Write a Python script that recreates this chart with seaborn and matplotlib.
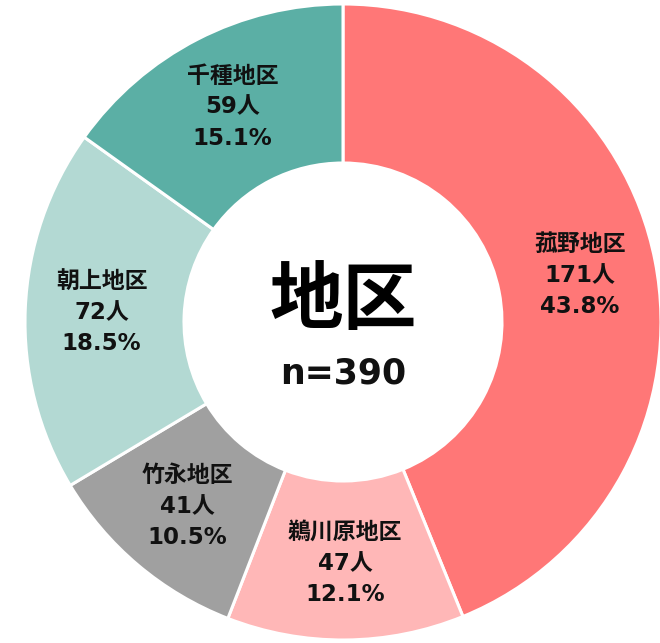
import matplotlib
matplotlib.use('Agg')
import matplotlib.pyplot as plt
import seaborn as sns

# === データ ===
areas = ['菰野地区', '鵜川原地区', '竹永地区', '朝上地区', '千種地区']
counts = [171, 47, 41, 72, 59]
percents = [43.8, 12.1, 10.5, 18.5, 15.1]
colors = ['#FF7777', '#FFB7B7', '#A0A0A0', '#B3D9D3', '#5BAFA5']
center_title = '地区'
center_n = 'n=390'

sns.set_theme(style='white')
plt.rcParams['font.family'] = ['DejaVu Sans', 'Noto Sans CJK JP']

fig = plt.figure(figsize=(6.6, 6.43), dpi=100)
ax = fig.add_axes([0, 0, 1, 1])

labels = [f'{a}\n{c}人\n{p:.1f}%' for a, c, p in zip(areas, counts, percents)]
wedges, texts = ax.pie(
    counts,
    labels=labels,
    colors=sns.color_palette(colors),
    startangle=90,
    counterclock=False,
    labeldistance=0.76,
    radius=1.0,
    wedgeprops=dict(width=0.5, edgecolor='white', linewidth=2.2),
    textprops=dict(fontsize=16.5, fontweight='bold', color='#111111',
                   ha='center', va='center', linespacing=1.45),
)
for t in texts:
    t.set_horizontalalignment('center')

ax.text(0, 0.065, center_title, ha='center', va='center',
        fontsize=53, fontweight='bold', color='black',
        family=['Noto Sans CJK JP', 'DejaVu Sans'])
ax.text(0, -0.162, center_n, ha='center', va='center',
        fontsize=25, fontweight='bold', color='#111111')

# 画像の切り取り位置に合わせる
ax.set_xlim(-343 / 318, (660 - 343) / 318)
ax.set_ylim(-(643 - 322) / 318, 322 / 318)
ax.set_aspect('equal')
ax.axis('off')

fig.savefig('out.png', dpi=100, facecolor='white')
